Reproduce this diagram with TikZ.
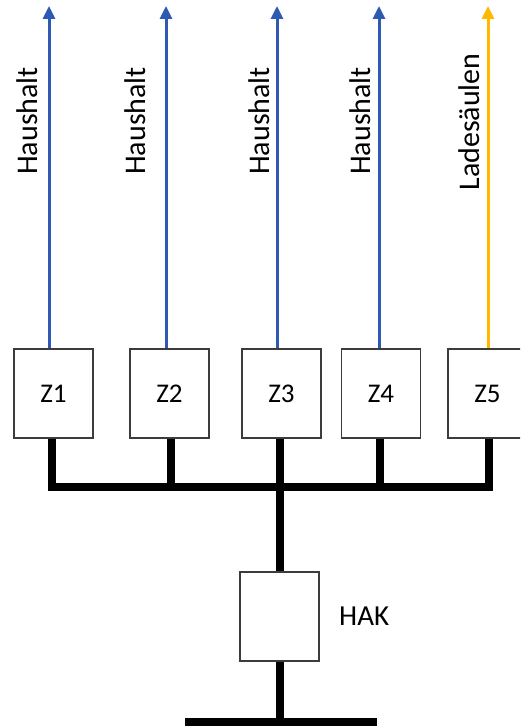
\documentclass[tikz,border=0pt]{standalone}
\usepackage{fontspec}
\setmainfont{Carlito}
\usetikzlibrary{arrows.meta}
\definecolor{hhblue}{RGB}{47,90,180}
\definecolor{ladegold}{RGB}{255,184,0}
\definecolor{boxgray}{RGB}{60,60,60}
\begin{document}
\begin{tikzpicture}[x=1pt,y=-1pt,
  zbox/.style={draw=boxgray, line width=1.3pt, fill=white, minimum width=79pt, minimum height=89pt, inner sep=0pt, font=\fontsize{27}{27}\selectfont},
  feed/.style={line width=3pt, -{Triangle[length=13pt,width=12pt]}},
  lbl/.style={rotate=90, anchor=base, inner sep=0pt, font=\fontsize{30}{30}\selectfont},
  power/.style={line width=8.5pt, line cap=butt, line join=miter}]
\clip (0,0) rectangle (520,727);
\useasboundingbox (0,0) rectangle (520,727);
\fill[white] (0,0) rectangle (520,727);
% boxes
\node[zbox] (Z1) at (53.5,393.5) {Z1};
\node[zbox] (Z2) at (169.5,393.5) {Z2};
\node[zbox] (Z3) at (281.5,393.5) {Z3};
\node[zbox] (Z4) at (381,393.5) {Z4};
\node[zbox] (Z5) at (487.5,393.5) {Z5};
\node[zbox] (HAK) at (279.5,616.5) {};
\node[anchor=west, inner sep=0pt, font=\fontsize{29}{29}\selectfont] (hakl) at (339,616.5) {HAK};
% arrow tips
\coordinate (t1) at (49,6);
\coordinate (t2) at (166,6);
\coordinate (t3) at (277,6);
\coordinate (t4) at (379,6);
\coordinate (t5) at (488,6);
\draw[feed, hhblue] (Z1.north -| t1) -- (t1);
\draw[feed, hhblue] (Z2.north -| t2) -- (t2);
\draw[feed, hhblue] (Z3.north -| t3) -- (t3);
\draw[feed, hhblue] (Z4.north -| t4) -- (t4);
\draw[feed, ladegold] (Z5.north -| t5) -- (t5);
% labels
\node[lbl] (l1) at (37,121) {Haushalt};
\node[lbl] (l2) at (145,121) {Haushalt};
\node[lbl] (l3) at (269,121) {Haushalt};
\node[lbl] (l4) at (370,121) {Haushalt};
\node[lbl] (l5) at (479,122) {Ladesäulen};
% bus
\coordinate (b1) at (52,487);
\coordinate (b2) at (171,487);
\coordinate (b3) at (280,487);
\coordinate (b4) at (380,487);
\coordinate (b5) at (489,487);
\draw[power] (Z1.south -| b1) -- (b1) -- (b5) -- (Z5.south -| b5);
\draw[power] (Z2.south -| b2) -- (b2);
\draw[power] (Z3.south -| b3) -- (b3);
\draw[power] (Z4.south -| b4) -- (b4);
\draw[power] (b3) -- (HAK.north -| b3);
\coordinate (g) at (280,722);
\coordinate (gl) at (185,722);
\coordinate (gr) at (377,722);
\draw[power] (HAK.south -| g) -- (g);
\draw[power] (gl) -- (gr);
\end{tikzpicture}
\end{document}
